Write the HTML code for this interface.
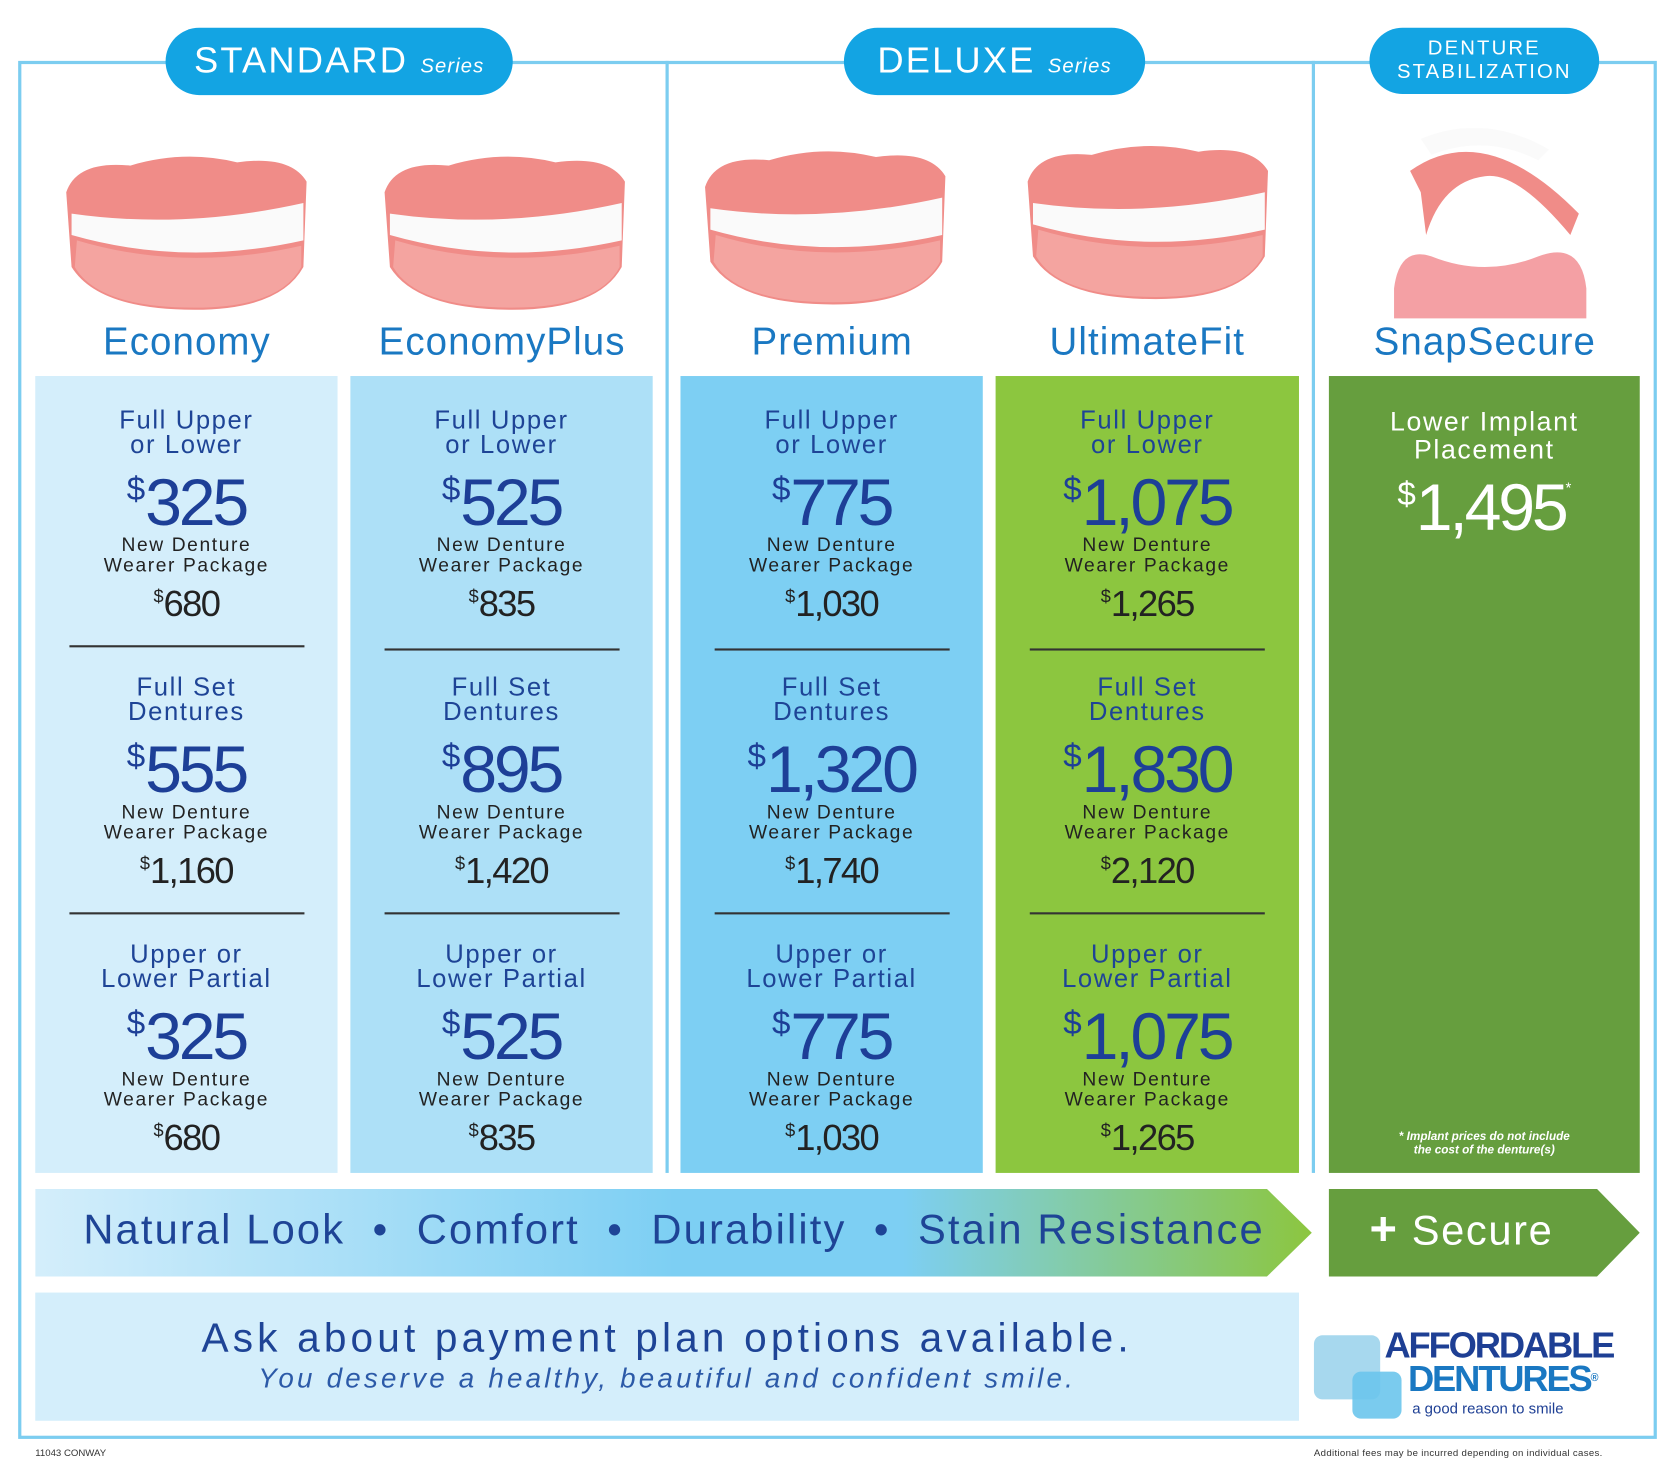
<!DOCTYPE html>
<html><head><meta charset="utf-8">
<style>
*{margin:0;padding:0;box-sizing:border-box}
html,body{width:1675px;height:1475px;overflow:hidden;background:#fff}
#w{position:absolute;left:0;top:0;width:1568px;height:1381px;transform:scale(1.06824);transform-origin:0 0;font-family:"Liberation Sans",sans-serif}
.a{position:absolute}
.frame{left:17px;top:57px;width:1534px;height:1290px;border:3px solid #7ccdf0}
.vd{top:57px;width:3px;height:1041px;background:#7ccdf0}
.pill{background:#13a4e3;color:#fff;border-radius:32px;text-align:center;letter-spacing:2px}
.name{width:300px;text-align:center;color:#1a78c2;font-size:36px;letter-spacing:1px;top:299px}
.col{top:352px;height:746px}
.sec{position:absolute;left:0;width:100%;text-align:center}
.h{color:#1e4496;font-size:24px;line-height:23px;letter-spacing:1.5px}
.p{color:#1d3f97;font-size:62px;line-height:56px;letter-spacing:-3px;margin-top:2px;margin-bottom:2px}
.p sup,.s sup{font-size:.5em;vertical-align:.75em;letter-spacing:0}
.n{color:#222;font-size:18px;line-height:19px;letter-spacing:1.5px}
.s{color:#222;font-size:34px;line-height:40px;letter-spacing:-1.5px}
.ln{position:absolute;left:32px;width:220px;height:1.5px;background:#333}
</style></head><body><div id="w">
<div class="a frame"></div>
<div class="a vd" style="left:623px"></div>
<div class="a vd" style="left:1228px"></div>

<div class="a pill" style="left:155px;top:26px;width:325px;height:63px;line-height:63px;font-size:34px">STANDARD <span style="font-size:19px;font-style:italic;letter-spacing:1px">Series</span></div>
<div class="a pill" style="left:790px;top:26px;width:282px;height:63px;line-height:63px;font-size:34px">DELUXE <span style="font-size:19px;font-style:italic;letter-spacing:1px">Series</span></div>
<div class="a pill" style="left:1282px;top:26px;width:215px;height:62px;padding-top:9px;font-size:19px;line-height:22px">DENTURE<br>STABILIZATION</div>

<svg class="a" style="left:0;top:120px" width="1568" height="180">
<defs><g id="d">
<path d="M0,40 Q10,10 60,15 Q110,0 160,12 Q210,5 225,30 L222,110 Q200,150 120,150 Q30,150 5,110 Z" fill="#f08c88"/>
<path d="M5,60 Q110,75 222,50 L222,85 Q110,110 5,80Z" fill="#fafafa"/>
<path d="M10,85 Q110,115 220,90 L220,110 Q200,148 120,148 Q30,148 8,110Z" fill="#f4a4a0"/>
</g></defs>
<use href="#d" x="62" y="20"/>
<use href="#d" x="360" y="20"/>
<use href="#d" x="660" y="15"/>
<use href="#d" x="962" y="10"/>
<path d="M1320,40 Q1390,-10 1478,80 L1470,100 Q1420,40 1390,45 Q1350,50 1335,100 L1330,60Z" fill="#f08c88"/>
<path d="M1330,10 Q1390,-15 1450,20 L1440,30 Q1390,5 1340,25Z" fill="#fafafa"/>
<path d="M1305,178 L1305,150 Q1310,110 1340,120 Q1390,140 1440,120 Q1480,105 1485,150 L1485,178Z" fill="#f4a0a4"/>
</svg>

<div class="a name" style="left:25px">Economy</div>
<div class="a name" style="left:320px">EconomyPlus</div>
<div class="a name" style="left:629px">Premium</div>
<div class="a name" style="left:924px">UltimateFit</div>
<div class="a name" style="left:1240px">SnapSecure</div>

<div class="a col" style="left:33px;width:283px;background:#d4eefb">
 <div class="sec" style="top:30px"><div class="h">Full Upper<br>or Lower</div><div class="p"><sup>$</sup>325</div><div class="n">New Denture<br>Wearer Package</div><div class="s"><sup>$</sup>680</div></div>
 <div class="ln" style="top:252px"></div>
 <div class="sec" style="top:280px"><div class="h">Full Set<br>Dentures</div><div class="p"><sup>$</sup>555</div><div class="n">New Denture<br>Wearer Package</div><div class="s"><sup>$</sup>1,160</div></div>
 <div class="ln" style="top:502px"></div>
 <div class="sec" style="top:530px"><div class="h">Upper or<br>Lower Partial</div><div class="p"><sup>$</sup>325</div><div class="n">New Denture<br>Wearer Package</div><div class="s"><sup>$</sup>680</div></div>
</div>
<div class="a col" style="left:328px;width:283px;background:#ade0f7">
 <div class="sec" style="top:30px"><div class="h">Full Upper<br>or Lower</div><div class="p"><sup>$</sup>525</div><div class="n">New Denture<br>Wearer Package</div><div class="s"><sup>$</sup>835</div></div>
 <div class="ln" style="top:255px"></div>
 <div class="sec" style="top:280px"><div class="h">Full Set<br>Dentures</div><div class="p"><sup>$</sup>895</div><div class="n">New Denture<br>Wearer Package</div><div class="s"><sup>$</sup>1,420</div></div>
 <div class="ln" style="top:502px"></div>
 <div class="sec" style="top:530px"><div class="h">Upper or<br>Lower Partial</div><div class="p"><sup>$</sup>525</div><div class="n">New Denture<br>Wearer Package</div><div class="s"><sup>$</sup>835</div></div>
</div>
<div class="a col" style="left:637px;width:283px;background:#7dcff3">
 <div class="sec" style="top:30px"><div class="h">Full Upper<br>or Lower</div><div class="p"><sup>$</sup>775</div><div class="n">New Denture<br>Wearer Package</div><div class="s"><sup>$</sup>1,030</div></div>
 <div class="ln" style="top:255px"></div>
 <div class="sec" style="top:280px"><div class="h">Full Set<br>Dentures</div><div class="p"><sup>$</sup>1,320</div><div class="n">New Denture<br>Wearer Package</div><div class="s"><sup>$</sup>1,740</div></div>
 <div class="ln" style="top:502px"></div>
 <div class="sec" style="top:530px"><div class="h">Upper or<br>Lower Partial</div><div class="p"><sup>$</sup>775</div><div class="n">New Denture<br>Wearer Package</div><div class="s"><sup>$</sup>1,030</div></div>
</div>
<div class="a col" style="left:932px;width:284px;background:#8cc63f">
 <div class="sec" style="top:30px"><div class="h">Full Upper<br>or Lower</div><div class="p"><sup>$</sup>1,075</div><div class="n">New Denture<br>Wearer Package</div><div class="s"><sup>$</sup>1,265</div></div>
 <div class="ln" style="top:255px"></div>
 <div class="sec" style="top:280px"><div class="h">Full Set<br>Dentures</div><div class="p"><sup>$</sup>1,830</div><div class="n">New Denture<br>Wearer Package</div><div class="s"><sup>$</sup>2,120</div></div>
 <div class="ln" style="top:502px"></div>
 <div class="sec" style="top:530px"><div class="h">Upper or<br>Lower Partial</div><div class="p"><sup>$</sup>1,075</div><div class="n">New Denture<br>Wearer Package</div><div class="s"><sup>$</sup>1,265</div></div>
</div>
<div class="a col" style="left:1244px;width:291px;background:#669e3e;color:#fff">
 <div class="sec" style="top:30px"><div class="h" style="color:#fff;font-size:25px;line-height:26px">Lower Implant<br>Placement</div><div class="p" style="color:#fff;margin-top:-6px"><sup>$</sup>1,495<sup style="font-size:14px;vertical-align:2.5em">*</sup></div></div>
 <div class="sec" style="top:706px;font-size:11px;font-style:italic;font-weight:bold;line-height:13px">* Implant prices do not include<br>the cost of the denture(s)</div>
</div>

<svg class="a" style="left:33px;top:1113px" width="1502" height="83">
<defs><linearGradient id="g" x1="0" x2="1"><stop offset="0" stop-color="#d4eefb"/><stop offset=".5" stop-color="#7dcff3"/><stop offset=".68" stop-color="#7dcff3"/><stop offset="1" stop-color="#8cc63f"/></linearGradient></defs>
<path d="M0,0 H1153 L1195,41 L1153,82 H0Z" fill="url(#g)"/>
<path d="M1211,0 H1462 L1502,41 L1462,82 H1211Z" fill="#669e3e"/>
</svg>
<div class="a" style="left:78px;top:1130px;width:1100px;font-size:39px;color:#1e4496;letter-spacing:2px;white-space:nowrap">Natural Look &nbsp;•&nbsp; Comfort &nbsp;•&nbsp; Durability &nbsp;•&nbsp; Stain Resistance</div>
<div class="a" style="left:1282px;top:1126px;font-size:39px;color:#fff;letter-spacing:1.5px"><b style="font-size:44px">+</b> Secure</div>

<div class="a" style="left:33px;top:1210px;width:1183px;height:120px;background:#d4eefb;text-align:center;color:#1e4496">
 <div style="font-size:38px;margin-top:22px;letter-spacing:3.9px;white-space:nowrap">Ask about payment plan options available.</div>
 <div style="font-size:26px;font-style:italic;color:#2c5aa8;letter-spacing:3px;margin-top:0;white-space:nowrap">You deserve a healthy, beautiful and confident smile.</div>
</div>

<div class="a" style="left:1230px;top:1250px;width:62px;height:60px;background:#a7d8ee;border-radius:8px"></div>
<div class="a" style="left:1266px;top:1284px;width:46px;height:44px;background:#6cc5ec;border-radius:8px;opacity:.9"></div>
<div class="a" style="left:1296px;top:1244px;font-size:34px;font-weight:bold;color:#1e3f94;letter-spacing:-2px;line-height:32px">AFFORDABLE</div>
<div class="a" style="left:1318px;top:1274px;font-size:34px;font-weight:bold;color:#1a78c2;letter-spacing:-2px;line-height:34px">DENTURES<span style="font-size:10px;vertical-align:top">®</span></div>
<div class="a" style="left:1322px;top:1310px;font-size:14px;color:#1e3f94">a good reason to smile</div>

<div class="a" style="left:33px;top:1355px;font-size:9px;color:#333">11043 CONWAY</div>
<div class="a" style="left:1230px;top:1355px;font-size:9px;color:#333;letter-spacing:.3px">Additional fees may be incurred depending on individual cases.</div>
</div></body></html>
